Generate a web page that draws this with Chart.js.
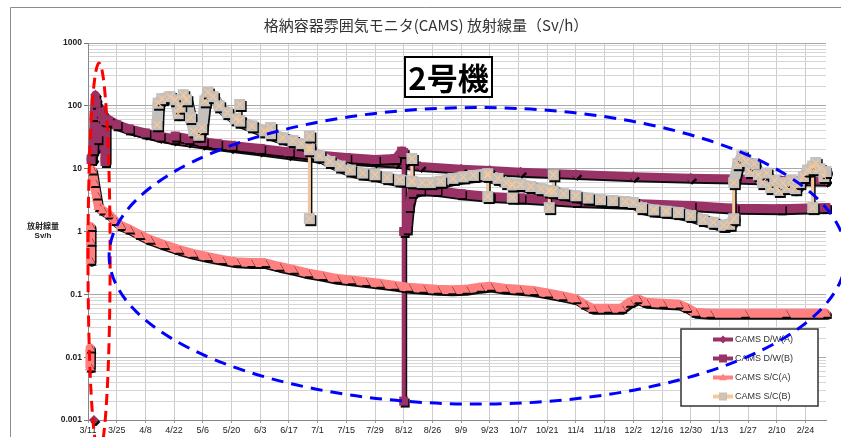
<!DOCTYPE html>
<html lang="ja">
<head>
<meta charset="utf-8">
<title>CAMS 2号機</title>
<script src="https://cdn.jsdelivr.net/npm/chart.js@4.4.1/dist/chart.umd.min.js"></script>
<style>
  html, body { margin: 0; padding: 0; background: #fff; }
  #wrap { width: 841px; height: 437px; }
</style>
</head>
<body>
<div id="wrap"><canvas id="camsChart" width="841" height="437"></canvas></div>
<script>
"use strict";

const chartTitle = "格納容器雰囲気モニタ(CAMS) 放射線量（Sv/h）";
const unitLabel = "2号機";
const yTitleLines = ["放射線量", "Sv/h"];
const seriesNames = ["CAMS D/W(A)", "CAMS D/W(B)", "CAMS S/C(A)", "CAMS S/C(B)"];

// x = days since 3/11 (2011), one label every 14 days
const xTickLabels = ["3/11", "3/25", "4/8", "4/22", "5/6", "5/20", "6/3", "6/17", "7/1", "7/15",
  "7/29", "8/12", "8/26", "9/9", "9/23", "10/7", "10/21", "11/4", "11/18", "12/2",
  "12/16", "12/30", "1/13", "1/27", "2/10", "2/24"];
const tickStepDays = 14;
const lastDay = 360;

// [day, Sv/h]  (null = gap)
const dwA = [[1.8, 16], [2.4, 14], [2.7, null], [2.9, 0.001], [3.0, null], [3.2, 60], [3.6, 150],
  [4.0, 125], [4.4, 35], [4.8, 22], [5.3, 65], [6, 95], [7, 80], [8, 70], [10, 62], [13, 54],
  [17, 47], [22, 41], [28, 36], [35, 32], [42, 29], [49, 27], [56, 25], [63, 23.5], [70, 22],
  [84, 19.5], [98, 17], [112, 15], [126, 14], [140, 13], [150, 12.5], [154, 12], [162, 11],
  [182, 10], [196, 9.5], [211, 8.9], [238, 8.2], [266, 7.6], [294, 7.2], [315, 7.0],
  [338, 6.6], [360, 6.4]];

const dwB = [[1.5, 14], [2.5, 20], [3, 70], [3.5, 130], [4, 110], [4.6, 30], [5.2, 70], [6, 80],
  [7, 66], [8, 60], [8.3, 13], [8.6, 58], [10, 57], [14, 50], [20, 43], [28, 37], [35, 33],
  [42, 30], [42.5, 33], [49, 30], [56, 27], [63, 25], [70, 23.5], [84, 21], [98, 18.5],
  [112, 16.5], [126, 15], [140, 14], [150, 14.5], [153, 19], [154, 18], [154, 0.002], [154, 1.0],
  [155.5, 1.1], [156.5, 2.5], [158, 4.2], [162, 4.6], [170, 4.5], [182, 4.0], [196, 3.6],
  [211, 3.4], [238, 3.0], [266, 2.8], [294, 2.6], [315, 2.35], [338, 2.3], [360, 2.4]];

const scA = [[0.9, 0.007], [1.0, 0.014], [1.05, null], [1.1, 0.35], [1.2, 0.7], [1.3, 1.2],
  [1.35, null], [2, 9.5], [3, 6], [4, 3.8], [5, 2.5], [7, 2.2], [10, 1.9], [13, 1.5], [16, 1.25],
  [20, 1.1], [25, 0.9], [30, 0.75], [37, 0.62], [44, 0.52], [51, 0.45], [58, 0.4], [65, 0.36],
  [72, 0.33], [79, 0.32], [86, 0.32], [93, 0.28], [100, 0.25], [107, 0.22], [114, 0.2],
  [121, 0.18], [128, 0.17], [135, 0.16], [142, 0.15], [149, 0.14], [156, 0.13], [163, 0.125],
  [170, 0.12], [177, 0.118], [184, 0.12], [191, 0.13], [196, 0.135], [203, 0.125], [210, 0.12],
  [217, 0.115], [224, 0.105], [231, 0.095], [238, 0.085], [242, 0.07], [246, 0.06], [253, 0.06],
  [260, 0.06], [264, 0.075], [268, 0.085], [272, 0.075], [280, 0.072], [288, 0.07], [292, 0.062],
  [296, 0.052], [303, 0.05], [320, 0.05], [340, 0.05], [360, 0.05]];

const scB = [[33.7, 50], [34.2, 110], [36, 130], [40, 140], [42.5, 125], [44, 75], [45, 95],
  [46.5, 150], [48, 125], [50, 65], [51.5, 40], [54, 34], [55.5, 45], [57, 120], [58.5, 165],
  [61, 140], [64, 100], [68, 78], [72, 62], [74, 58], [74, 105], [74, 57], [80, 48], [86, 40],
  [89, 37], [89, 45], [89, 36], [95, 31], [100, 28], [104, 25], [108, 22], [108, 33], [108, 1.6],
  [108, 20], [113, 16], [118, 13], [123, 11], [128, 9.5], [134, 8.5], [140, 8], [146, 7.2],
  [152, 6.6], [158, 6.3], [158, 14.5], [158, 6.2], [163, 6.0], [167, 6.0], [172, 6.3], [178, 7.0],
  [183, 7.4], [188, 7.8], [195, 8.3], [195, 3.6], [195, 7.8], [200, 7.0], [204, 6.0], [207, 5.6],
  [207, 3.5], [207, 5.5], [211, 5.6], [216, 5.2], [221, 4.8], [225, 4.5], [225, 2.4], [225, 4.4],
  [227, 4.4], [227, 8.0], [227, 4.3], [232, 4.0], [238, 3.7], [244, 3.4], [250, 3.2], [256, 3.1],
  [262, 3.0], [266, 2.9], [270, 2.4], [276, 2.2], [282, 2.1], [288, 2.0], [294, 1.8], [300, 1.55],
  [305, 1.4], [310, 1.25], [313, 1.3], [315, 1.6], [315, 6], [317, 12], [319, 16], [321, 13],
  [323, 9], [325, 12], [327, 8], [329, 6], [331, 8.5], [333, 5], [335, 6.5], [337, 4.5], [339, 6],
  [341, 5], [343, 6.5], [345, 4.8], [347, 6], [349, 7.5], [351, 9.5], [353.5, 11], [353.5, 2.4],
  [353.5, 10], [355, 12.5], [357, 10], [359, 7.5], [360, 9]];

// dashed rings drawn over the plot (centre in data units)
const highlightRings = [
  { color: "#ff0000", dash: [11, 6], width: 3, day: 5.4, value: 0.38, spanDays: 5.4, spanDecades: 3.1 },
  { color: "#0000ff", dash: [12, 8], width: 3, day: 190, value: 0.41, spanDays: 179.7, spanDecades: 2.36 },
];

const purple = "#993366";
const salmon = "#ff8080";
const scbGray = "#c3c0bd";
const scbPeach = "#fbc794";
const jpFont = '"Noto Sans CJK JP", "Noto Sans", sans-serif';
const latinFont = '"Liberation Sans", Arial, sans-serif';

// marker per series (Excel style): diamond, square, triangle, grey square with X
const markerStyles = ["diamond", "square", "triangle", "crossbox"];
const markerSize = [5, 4.5, 5, 5.5];

Chart.defaults.font.family = latinFont;

const toPoints = (pairs) => pairs.map(([x, y]) => ({ x, y }));
const isDecade = (v) => Math.abs(Math.log10(v) - Math.round(Math.log10(v))) < 1e-9;
const isVertical = (ctx) => ctx.p0.parsed.x === ctx.p1.parsed.x;

// point radius 0: markers are drawn by the seriesLook plugin
const lineBase = { borderJoinStyle: "round", borderCapStyle: "round", pointRadius: 0, clip: 10 };

const datasets = [
  {
    ...lineBase, label: seriesNames[0], data: toPoints(dwA), order: 4,
    borderColor: purple, backgroundColor: purple, borderWidth: 8,
    segment: { borderWidth: (c) => (isVertical(c) ? 3 : 8) },
  },
  {
    ...lineBase, label: seriesNames[1], data: toPoints(dwB), order: 3,
    borderColor: purple, backgroundColor: purple, borderWidth: 9,
    segment: { borderWidth: (c) => (isVertical(c) ? 4 : 9) },
  },
  {
    ...lineBase, label: seriesNames[2], data: toPoints(scA), order: 2,
    borderColor: salmon, backgroundColor: salmon, borderWidth: 9,
  },
  {
    ...lineBase, label: seriesNames[3], data: toPoints(scB), order: 1,
    borderColor: scbGray, backgroundColor: scbGray, borderWidth: 11,
    segment: { borderWidth: (c) => (isVertical(c) ? 3 : 11) },
  },
];

const drawCross = (ctx, x, y, r) => {
  ctx.moveTo(x - r, y - r);
  ctx.lineTo(x + r, y + r);
  ctx.moveTo(x + r, y - r);
  ctx.lineTo(x - r, y + r);
};

const drawMarker = (ctx, style, x, y, s) => {
  ctx.beginPath();
  if (style === "diamond") {
    ctx.moveTo(x, y - s); ctx.lineTo(x + s, y); ctx.lineTo(x, y + s); ctx.lineTo(x - s, y);
  } else if (style === "triangle") {
    ctx.moveTo(x, y - s); ctx.lineTo(x + s, y + s * 0.7); ctx.lineTo(x - s, y + s * 0.7);
  } else {
    ctx.rect(x - s, y - s, 2 * s, 2 * s);
  }
  ctx.closePath();
  ctx.fill();
};

const setShadow = (ctx) => {
  ctx.shadowColor = "rgba(0,0,0,0.95)";
  ctx.shadowOffsetX = 1.5;
  ctx.shadowOffsetY = 2;
  ctx.shadowBlur = 0;
};

const clipTo = (ctx, area, m) => {
  ctx.beginPath();
  ctx.rect(area.left - m, area.top - m, area.right - area.left + 2 * m, area.bottom - area.top + 2 * m);
  ctx.clip();
};

// Excel-like black drop shadow under every series, and the series markers
const seriesLook = {
  id: "seriesLook",
  beforeDatasetDraw(chart) {
    chart.ctx.save();
    setShadow(chart.ctx);
  },
  afterDatasetDraw(chart, args) {
    const ctx = chart.ctx;
    const area = chart.chartArea;
    const i = args.index;
    const style = markerStyles[i];
    const pts = args.meta.data.filter((pt) => !pt.skip);
    ctx.restore();

    // the vertical jumps of S/C(B) are thin peach lines
    if (style === "crossbox") {
      ctx.save();
      clipTo(ctx, area, 0);
      ctx.strokeStyle = scbPeach;
      ctx.lineWidth = 2.5;
      ctx.beginPath();
      for (let k = 1; k < pts.length; k++) {
        if (Math.abs(pts[k].x - pts[k - 1].x) < 0.01) {
          ctx.moveTo(pts[k - 1].x, pts[k - 1].y);
          ctx.lineTo(pts[k].x, pts[k].y);
        }
      }
      ctx.stroke();
      ctx.restore();
    }

    ctx.save();
    clipTo(ctx, area, 6);
    setShadow(ctx);
    ctx.fillStyle = datasets[i].backgroundColor;
    pts.forEach((pt) => drawMarker(ctx, style, pt.x, pt.y, markerSize[i]));
    ctx.restore();

    if (style !== "crossbox") return;
    ctx.save();
    clipTo(ctx, area, 0);
    ctx.strokeStyle = scbPeach;
    ctx.lineWidth = 1.2;
    ctx.beginPath();
    pts.forEach((pt) => drawCross(ctx, pt.x, pt.y, 3.5));
    ctx.stroke();
    ctx.restore();
  },
};

const decorations = {
  id: "decorations",
  beforeDraw(chart) {
    const ctx = chart.ctx;
    ctx.save();
    ctx.fillStyle = "#fff";
    ctx.fillRect(0, 0, chart.width, chart.height);
    // chart frame
    ctx.strokeStyle = "#8c8c8c";
    ctx.lineWidth = 1;
    ctx.beginPath();
    ctx.moveTo(10.5, chart.height);
    ctx.lineTo(10.5, 7.5);
    ctx.lineTo(chart.width, 7.5);
    ctx.stroke();
    ctx.restore();
  },
  afterDraw(chart) {
    const ctx = chart.ctx;
    const area = chart.chartArea;
    const xs = chart.scales.x;
    const ys = chart.scales.y;
    ctx.save();

    // title
    ctx.fillStyle = "#333";
    ctx.font = "15px " + jpFont;
    ctx.textAlign = "center";
    ctx.textBaseline = "middle";
    ctx.fillText(chartTitle, 426, 25);

    // y axis title
    ctx.font = "bold 8px " + jpFont;
    ctx.fillStyle = "#222";
    ctx.fillText(yTitleLines[0], 43, 226);
    ctx.font = "bold 8px " + latinFont;
    ctx.fillText(yTitleLines[1], 43, 236);

    // unit label box
    const bx = area.left + 317, by = area.top + 14, bw = 87, bh = 40;
    ctx.fillStyle = "#fff";
    ctx.fillRect(bx, by, bw, bh);
    ctx.strokeStyle = "#000";
    ctx.lineWidth = 2;
    ctx.strokeRect(bx, by, bw, bh);
    ctx.fillStyle = "#000";
    ctx.font = "bold 31px " + jpFont;
    ctx.fillText(unitLabel, bx + bw / 2, by + bh / 2 + 1);

    // legend
    const lx = area.right - 145, ly = area.bottom - 91, lw = 137, lh = 77;
    ctx.fillStyle = "#fff";
    ctx.fillRect(lx, ly, lw, lh);
    ctx.strokeStyle = "#333";
    ctx.lineWidth = 1.5;
    ctx.strokeRect(lx, ly, lw, lh);
    ctx.textAlign = "left";
    ctx.font = "9px " + latinFont;
    datasets.forEach((ds, i) => {
      const ry = ly + 10.5 + i * 19;
      ctx.strokeStyle = i === 3 ? scbPeach : ds.borderColor;
      ctx.lineWidth = 4;
      ctx.beginPath();
      ctx.moveTo(lx + 32, ry);
      ctx.lineTo(lx + 52, ry);
      ctx.stroke();
      ctx.fillStyle = ds.backgroundColor;
      drawMarker(ctx, markerStyles[i], lx + 42, ry, 4);
      if (i === 3) {
        ctx.strokeStyle = scbPeach;
        ctx.lineWidth = 1;
        ctx.beginPath();
        drawCross(ctx, lx + 42, ry, 3);
        ctx.stroke();
      }
      ctx.fillStyle = "#333";
      ctx.fillText(ds.label, lx + 54, ry + 0.5);
    });

    // dashed rings
    highlightRings.forEach((r) => {
      const cx = xs.getPixelForValue(r.day);
      const cy = ys.getPixelForValue(r.value);
      const rx = xs.getPixelForValue(r.day + r.spanDays) - cx;
      const ry = cy - ys.getPixelForValue(r.value * Math.pow(10, r.spanDecades));
      ctx.strokeStyle = r.color;
      ctx.lineWidth = r.width;
      ctx.setLineDash(r.dash);
      ctx.beginPath();
      ctx.ellipse(cx, cy, rx, ry, 0, 0, Math.PI * 2);
      ctx.stroke();
    });
    ctx.restore();
  },
};

const config = {
  type: "line",
  data: { datasets },
  options: {
    responsive: false,
    animation: false,
    events: [],
    layout: { padding: { left: 48, right: 15, top: 43, bottom: 0 } },
    plugins: {
      legend: { display: false },
      tooltip: { enabled: false },
      title: { display: false },
    },
    scales: {
      x: {
        type: "linear",
        min: 0,
        max: lastDay,
        afterBuildTicks: (scale) => {
          scale.ticks = xTickLabels.map((_, i) => ({ value: i * tickStepDays }));
        },
        afterFit: (scale) => {
          scale.height = 17;
        },
        ticks: {
          autoSkip: false,
          maxRotation: 0,
          padding: 2,
          color: "#222",
          font: { size: 9 },
          callback: (value, index) => xTickLabels[index],
        },
        grid: { color: "#cdcdcd", tickLength: 3, tickColor: "#999" },
        border: { color: "#888" },
      },
      y: {
        type: "logarithmic",
        min: 0.001,
        max: 1000,
        afterBuildTicks: (scale) => {
          const ticks = [];
          for (let e = -3; e <= 2; e++) {
            for (let m = 1; m <= 9; m++) ticks.push({ value: m * Math.pow(10, e) });
          }
          ticks.push({ value: 1000 });
          scale.ticks = ticks;
        },
        afterFit: (scale) => {
          scale.width = 40;
        },
        ticks: {
          autoSkip: false,
          padding: 2,
          color: "#222",
          font: { size: 8.5, weight: "bold" },
          callback: (value) => (isDecade(value) ? String(value) : ""),
        },
        grid: {
          color: (c) => (isDecade(c.tick.value) ? "#a8a8a8" : "#d6d6d6"),
          tickLength: 4,
          tickColor: (c) => (isDecade(c.tick.value) ? "#777" : "rgba(0,0,0,0)"),
        },
        border: { color: "#888" },
      },
    },
  },
  plugins: [seriesLook, decorations],
};

const camsChart = new Chart(document.getElementById("camsChart"), config);
</script>
</body>
</html>
